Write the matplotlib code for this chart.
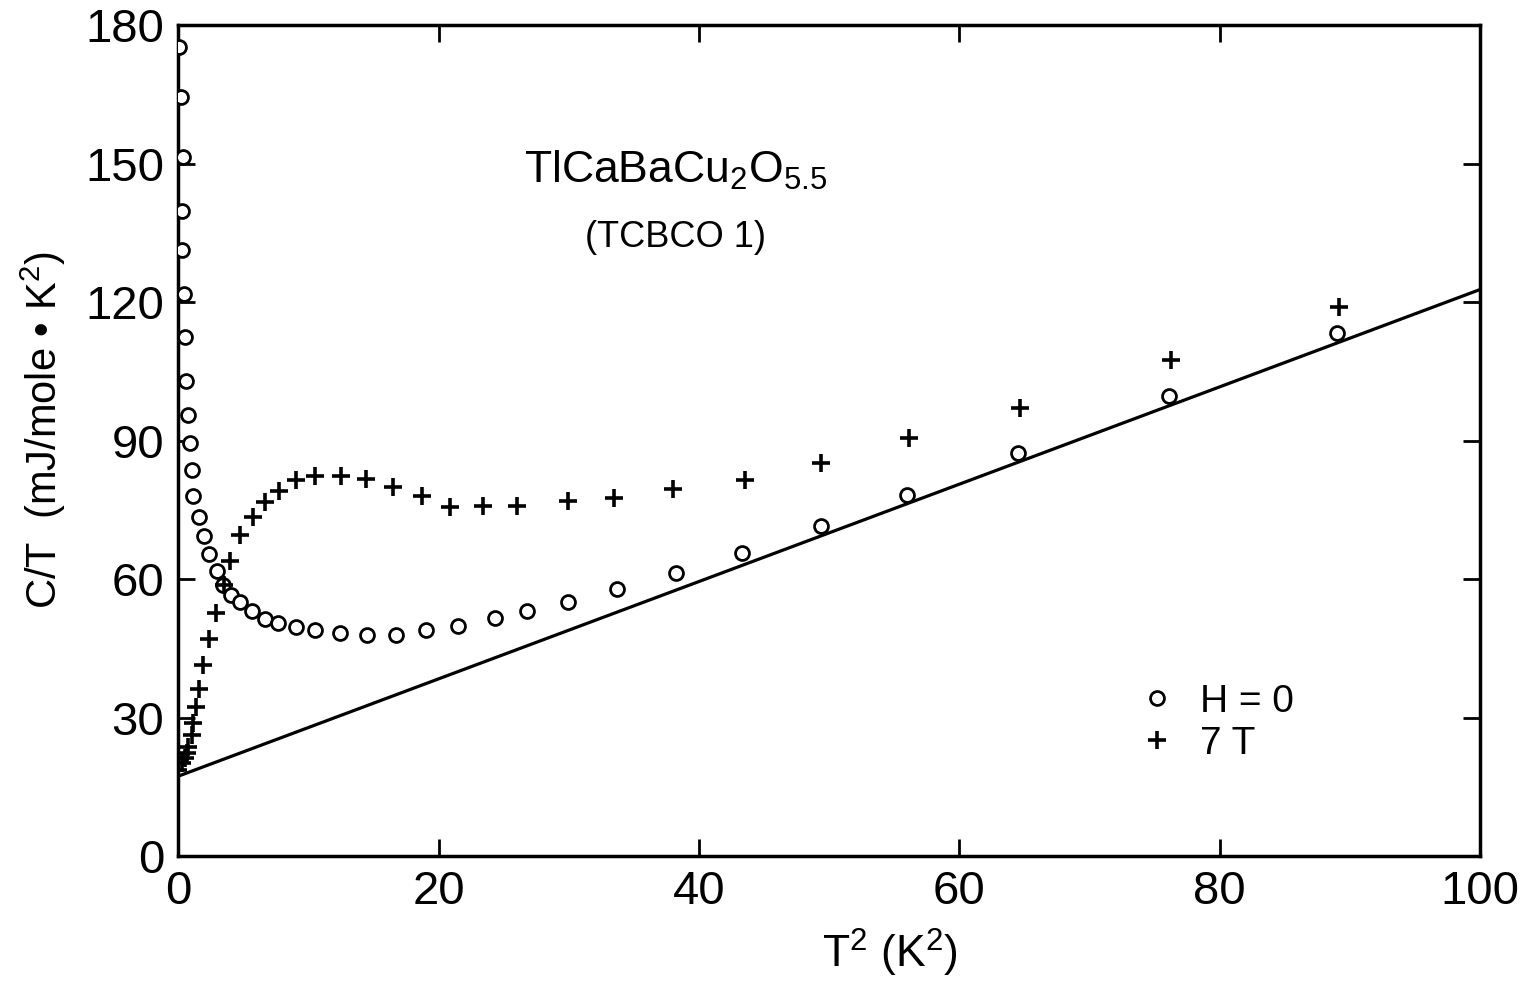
import matplotlib
matplotlib.use('Agg')
import matplotlib.pyplot as plt

# H = 0 data (circles)
t2_h0 = [0.08, 0.18, 0.34, 0.28, 0.28, 0.44, 0.51, 0.57, 0.77, 0.9, 1.08, 1.15,
         1.57, 2.0, 2.38, 2.95, 3.46, 4.03, 4.74, 5.66, 6.64, 7.66, 9.04, 10.5,
         12.4, 14.5, 16.7, 19.0, 21.5, 24.3, 26.8, 29.9, 33.7, 38.2, 43.3, 49.4,
         56.0, 64.5, 76.1, 89.0]
ct_h0 = [175.2, 164.4, 151.4, 139.7, 131.3, 121.7, 112.4, 102.9, 95.5, 89.5, 83.6, 78.0,
         73.5, 69.3, 65.5, 61.7, 58.6, 56.5, 55.1, 53.1, 51.4, 50.4, 49.5, 49.0,
         48.2, 47.9, 47.9, 49.0, 49.8, 51.5, 53.1, 55.0, 57.8, 61.3, 65.6, 71.5,
         78.2, 87.3, 99.6, 113.3]

# H = 7 T data (crosses)
t2_7t = [0.0, 0.26, 0.5, 0.65, 0.75, 1.03, 1.13, 1.36, 1.61, 1.87, 2.36, 2.87,
         3.51, 3.97, 4.74, 5.76, 6.66, 7.74, 9.04, 10.5, 12.5, 14.4, 16.5, 18.7,
         20.9, 23.4, 26.0, 29.9, 33.5, 38.0, 43.5, 49.4, 56.1, 64.7, 76.3, 89.2]
ct_7t = [18.6, 20.1, 21.2, 22.3, 23.6, 26.2, 28.8, 32.3, 36.1, 41.3, 47.1, 52.7,
         58.7, 64.0, 69.6, 73.5, 76.6, 79.1, 81.4, 82.3, 82.3, 81.7, 79.9, 78.0,
         75.7, 75.8, 75.8, 76.9, 77.6, 79.4, 81.4, 85.2, 90.5, 97.0, 107.4, 118.9]

# fitted line
fit_x = [0, 100]
fit_y = [17.3, 122.7]

plt.rcParams['font.family'] = ['Liberation Sans', 'DejaVu Sans']
plt.rcParams['mathtext.fontset'] = 'custom'
plt.rcParams['mathtext.rm'] = 'Liberation Sans'

fig = plt.figure(figsize=(15.27, 9.82), dpi=100)
ax = fig.add_axes([0.1168, 0.1283, 0.8524, 0.8462])

ax.plot(fit_x, fit_y, color='black', lw=2.3, zorder=2)
ax.plot(t2_h0, ct_h0, 'o', mfc='white', mec='black', ms=10, mew=2, ls='none',
        label='H = 0', zorder=3)
ax.plot(t2_7t, ct_7t, '+', color='black', ms=13, mew=2.6, ls='none',
        label='7 T', zorder=4)

ax.set_xlim(0, 100)
ax.set_ylim(0, 180)
ax.set_xticks(range(0, 101, 20))
ax.set_yticks(range(0, 181, 30))
ax.tick_params(direction='in', length=12, width=2, labelsize=34,
               top=True, right=True, pad=10)
for s in ax.spines.values():
    s.set_linewidth(2.5)

ax.set_xlabel('T$^2$ (K$^2$)', fontsize=32, labelpad=8)
ax.xaxis.set_label_coords(0.547, -0.085)
ax.set_ylabel('C/T  (mJ/mole \u2022 K$^2$)', fontsize=30)
ax.yaxis.set_label_coords(-0.085, 0.513)

ax.text(38.2, 148.6, 'TlCaBaCu$_2$O$_{5.5}$', fontsize=32, ha='center', va='center')
ax.text(38.2, 133.9, '(TCBCO 1)', fontsize=26, ha='center', va='center')

leg = ax.legend(loc='lower left', bbox_to_anchor=(0.725, 0.095), frameon=False,
                fontsize=28, handletextpad=0.6, labelspacing=0.15, handlelength=1.0,
                borderaxespad=0)

fig.savefig('out.png', dpi=100)
